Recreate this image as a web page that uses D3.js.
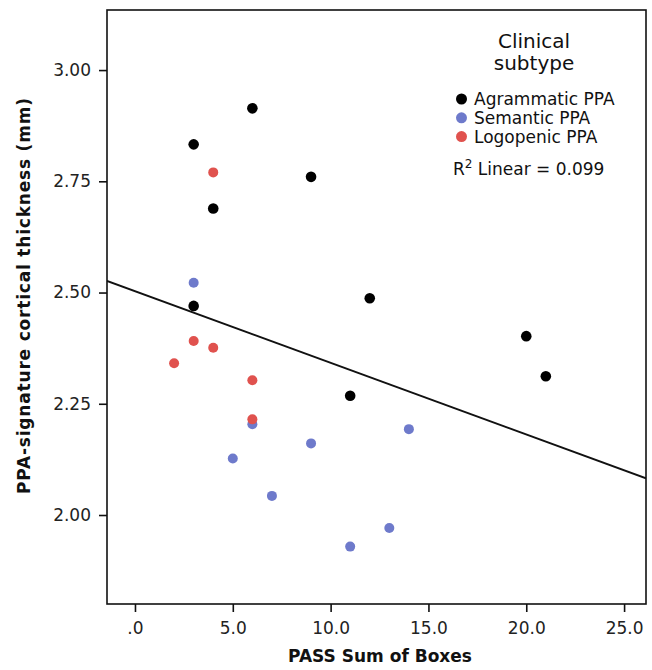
<!DOCTYPE html>
<html>
<head>
<meta charset="utf-8">
<script src="https://cdn.jsdelivr.net/npm/d3@7"></script>
<style>
  body { margin: 0; background: #fff; }
  text { font-family: "DejaVu Sans", "Lucida Grande", sans-serif; fill: #111; }
</style>
</head>
<body>
<div id="chart"></div>
<script>
// ---- data ----
var agrammaticX = [3, 6, 4, 9, 3, 12, 20, 21, 11];
var agrammaticY = [2.833, 2.914, 2.689, 2.760, 2.470, 2.487, 2.402, 2.312, 2.268];
var semanticX = [3, 6, 14, 9, 5, 7, 13, 11];
var semanticY = [2.522, 2.204, 2.193, 2.161, 2.127, 2.043, 1.971, 1.929];
var logopenicX = [4, 3, 4, 2, 6, 6];
var logopenicY = [2.770, 2.391, 2.376, 2.341, 2.303, 2.215];

var groupNames = ["Agrammatic PPA", "Semantic PPA", "Logopenic PPA"];
var xTicks = [0, 5, 10, 15, 20, 25];
var xTickLabels = [".0", "5.0", "10.0", "15.0", "20.0", "25.0"];
var yTicks = [2.00, 2.25, 2.50, 2.75, 3.00];
var yTickLabels = ["2.00", "2.25", "2.50", "2.75", "3.00"];

// fit line (R2 linear = 0.099)
var fitIntercept = 2.503;
var fitSlope = -0.0161;
var r2Label = "0.099";

var colors = ["#000000", "#6e7acb", "#e0524e"];

var margin = {top: 10, right: 6, bottom: 66, left: 107};
var width = 652 - margin.left - margin.right;
var height = 670 - margin.top - margin.bottom;

var svg = d3.select("#chart").append("svg")
  .attr("width", 652)
  .attr("height", 670)
  .append("g")
  .attr("transform", "translate(" + margin.left + "," + margin.top + ")");

var x = d3.scaleLinear().domain([-1.43, 26.12]).range([0, width]);
var y = d3.scaleLinear().domain([1.80, 3.135]).range([height, 0]);

// axes
var xAxis = svg.append("g")
  .attr("transform", "translate(0," + height + ")")
  .call(d3.axisBottom(x).tickValues(xTicks).tickSizeOuter(0).tickSize(8).tickPadding(10)
    .tickFormat(function(d, i) { return xTickLabels[i]; }));
var yAxis = svg.append("g")
  .call(d3.axisLeft(y).tickValues(yTicks).tickSizeOuter(0).tickSize(8).tickPadding(8)
    .tickFormat(function(d, i) { return yTickLabels[i]; }));

[xAxis, yAxis].forEach(function(a) {
  a.select(".domain").remove();
  a.selectAll("line").attr("stroke", "#111").attr("stroke-width", 1.6);
  a.selectAll("text").style("font-size", "17px").style("fill", "#222");
});

// frame
svg.append("rect")
  .attr("width", width).attr("height", height)
  .attr("fill", "none").attr("stroke", "#111").attr("stroke-width", 1.6);

// axis titles
svg.append("text")
  .attr("x", 380 - margin.left).attr("y", height + 58)
  .attr("text-anchor", "middle")
  .style("font-size", "17px").style("font-weight", "bold")
  .text("PASS Sum of Boxes");
svg.append("text")
  .attr("transform", "translate(" + (-77) + "," + (296 - margin.top) + ") rotate(-90)")
  .attr("text-anchor", "middle")
  .attr("textLength", 396).attr("lengthAdjust", "spacing")
  .style("font-size", "17px").style("font-weight", "bold")
  .text("PPA-signature cortical thickness (mm)");

// clip
svg.append("clipPath").attr("id", "plot-clip")
  .append("rect").attr("width", width).attr("height", height);

// fit line
var xd = x.domain();
svg.append("line")
  .attr("clip-path", "url(#plot-clip)")
  .attr("x1", x(xd[0])).attr("y1", y(fitIntercept + fitSlope * xd[0]))
  .attr("x2", x(xd[1])).attr("y2", y(fitIntercept + fitSlope * xd[1]))
  .attr("stroke", "#111").attr("stroke-width", 1.8);

// points
var groups = [
  {xs: agrammaticX, ys: agrammaticY},
  {xs: semanticX, ys: semanticY},
  {xs: logopenicX, ys: logopenicY}
];
groups.forEach(function(g, gi) {
  var pts = g.xs.map(function(v, i) { return {x: v, y: g.ys[i]}; });
  svg.append("g").selectAll("circle")
    .data(pts)
    .enter().append("circle")
    .attr("cx", function(d) { return x(d.x); })
    .attr("cy", function(d) { return y(d.y); })
    .attr("r", gi === 0 ? 5.3 : 5)
    .attr("fill", colors[gi]);
});

// legend
var legend = svg.append("g").attr("transform", "translate(" + (534 - margin.left) + ",0)");
legend.append("text").attr("x", 0).attr("y", 38)
  .attr("text-anchor", "middle").style("font-size", "20px").text("Clinical");
legend.append("text").attr("x", 0).attr("y", 60)
  .attr("text-anchor", "middle").style("font-size", "20px").text("subtype");

var items = legend.selectAll(".item")
  .data(groupNames)
  .enter().append("g")
  .attr("class", "item")
  .attr("transform", function(d, i) { return "translate(0," + (89 + i * 18.8) + ")"; });
items.append("circle")
  .attr("cx", -72.5).attr("cy", 0).attr("r", 5.5)
  .attr("fill", function(d, i) { return colors[i]; });
items.append("text")
  .attr("x", -60).attr("y", 0).attr("dy", "0.35em")
  .style("font-size", "17px")
  .text(function(d) { return d; });

var r2 = legend.append("text").attr("x", -81).attr("y", 165)
  .style("font-size", "17px");
r2.append("tspan").text("R");
r2.append("tspan").attr("dy", -7).style("font-size", "12px").text("2");
r2.append("tspan").attr("dy", 7).text(" Linear = " + r2Label);
</script>
</body>
</html>
